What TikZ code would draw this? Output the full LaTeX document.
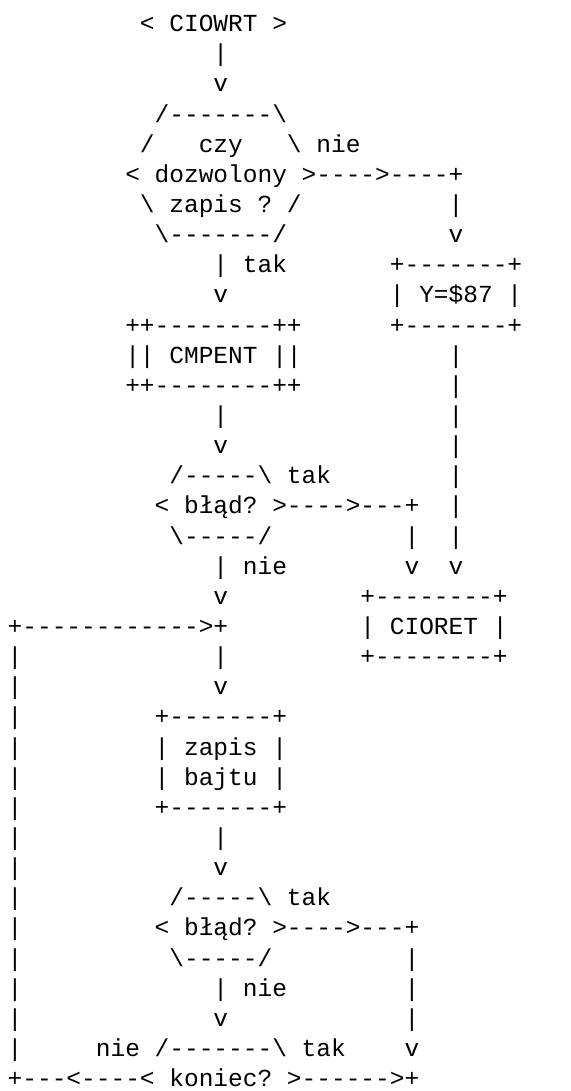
\documentclass[tikz,border=0pt]{standalone}
\usepackage{fontspec}
\setmonofont{Liberation Mono}
% One text run on the character grid: name, column, row, text
\newcommand\asc[4]{\node[cell] (#1) at ({7.65+14.7*(#2)},{31.7+30.14*(#3)}) {#4};}
\newcommand\bs{\textbackslash}
\begin{document}
\begin{tikzpicture}[x=0.5pt,y=-0.5pt,
  cell/.style={anchor=base west,inner sep=0pt,outer sep=0pt,
    font=\ttfamily\fontsize{12.25pt}{15pt}\selectfont}]
\fill[white] (0,0) rectangle (570,1091);
\useasboundingbox (0,0) rectangle (570,1091);
% entry
\asc{start}{9}{0}{< CIOWRT >}
\asc{a1}{14}{1}{|}
\asc{a2}{14}{2}{v}
% decision: write allowed?
\asc{d1top}{10}{3}{/-------\bs}
\asc{d1l}{9}{4}{/}
\asc{d1t1}{13}{4}{czy}
\asc{d1r}{19}{4}{\bs}
\asc{d1no}{21}{4}{nie}
\asc{d1mid}{8}{5}{< dozwolony >---->----+}
\asc{d1t3}{9}{6}{\bs{} zapis ? /}
\asc{n1a}{30}{6}{|}
\asc{d1bot}{10}{7}{\bs-------/}
\asc{n1b}{30}{7}{v}
\asc{y1a}{14}{8}{|}
\asc{d1yes}{16}{8}{tak}
% Y=$87 box
\asc{ytop}{26}{8}{+-------+}
\asc{y1b}{14}{9}{v}
\asc{ymid}{26}{9}{| Y=\$87 |}
\asc{ctop}{8}{10}{++--------++}
\asc{ybot}{26}{10}{+-------+}
% CMPENT call
\asc{cmid}{8}{11}{|| CMPENT ||}
\asc{r1}{30}{11}{|}
\asc{cbot}{8}{12}{++--------++}
\asc{r2}{30}{12}{|}
\asc{c1}{14}{13}{|}
\asc{r3}{30}{13}{|}
\asc{c2}{14}{14}{v}
\asc{r4}{30}{14}{|}
% first error check
\asc{e1top}{11}{15}{/-----\bs}
\asc{e1yes}{19}{15}{tak}
\asc{r5}{30}{15}{|}
\asc{e1mid}{10}{16}{< błąd? >---->---+}
\asc{r6}{30}{16}{|}
\asc{e1bot}{11}{17}{\bs-----/}
\asc{q1}{27}{17}{|}
\asc{r7}{30}{17}{|}
\asc{e1a}{14}{18}{|}
\asc{e1no}{16}{18}{nie}
\asc{q2}{27}{18}{v}
\asc{r8}{30}{18}{v}
\asc{e1b}{14}{19}{v}
% CIORET exit
\asc{xtop}{24}{19}{+--------+}
\asc{loop}{0}{20}{+------------>+}
\asc{xmid}{24}{20}{| CIORET |}
\asc{l1}{0}{21}{|}
\asc{j1}{14}{21}{|}
\asc{xbot}{24}{21}{+--------+}
\asc{l2}{0}{22}{|}
\asc{j2}{14}{22}{v}
% write byte
\asc{l3}{0}{23}{|}
\asc{btop}{10}{23}{+-------+}
\asc{l4}{0}{24}{|}
\asc{bt1}{10}{24}{| zapis |}
\asc{l5}{0}{25}{|}
\asc{bt2}{10}{25}{| bajtu |}
\asc{l6}{0}{26}{|}
\asc{bbot}{10}{26}{+-------+}
\asc{l7}{0}{27}{|}
\asc{b1}{14}{27}{|}
\asc{l8}{0}{28}{|}
\asc{b2}{14}{28}{v}
% second error check
\asc{l9}{0}{29}{|}
\asc{e2top}{11}{29}{/-----\bs}
\asc{e2yes}{19}{29}{tak}
\asc{l10}{0}{30}{|}
\asc{e2mid}{10}{30}{< błąd? >---->---+}
\asc{l11}{0}{31}{|}
\asc{e2bot}{11}{31}{\bs-----/}
\asc{s1}{27}{31}{|}
\asc{l12}{0}{32}{|}
\asc{e2a}{14}{32}{|}
\asc{e2no}{16}{32}{nie}
\asc{s2}{27}{32}{|}
\asc{l13}{0}{33}{|}
\asc{e2b}{14}{33}{v}
\asc{s3}{27}{33}{|}
% end check
\asc{l14}{0}{34}{|}
\asc{kno}{6}{34}{nie}
\asc{ktop}{10}{34}{/-------\bs}
\asc{kyes}{20}{34}{tak}
\asc{s4}{27}{34}{v}
\asc{kmid}{0}{35}{+---<----< koniec? >------>+}
\end{tikzpicture}
\end{document}
